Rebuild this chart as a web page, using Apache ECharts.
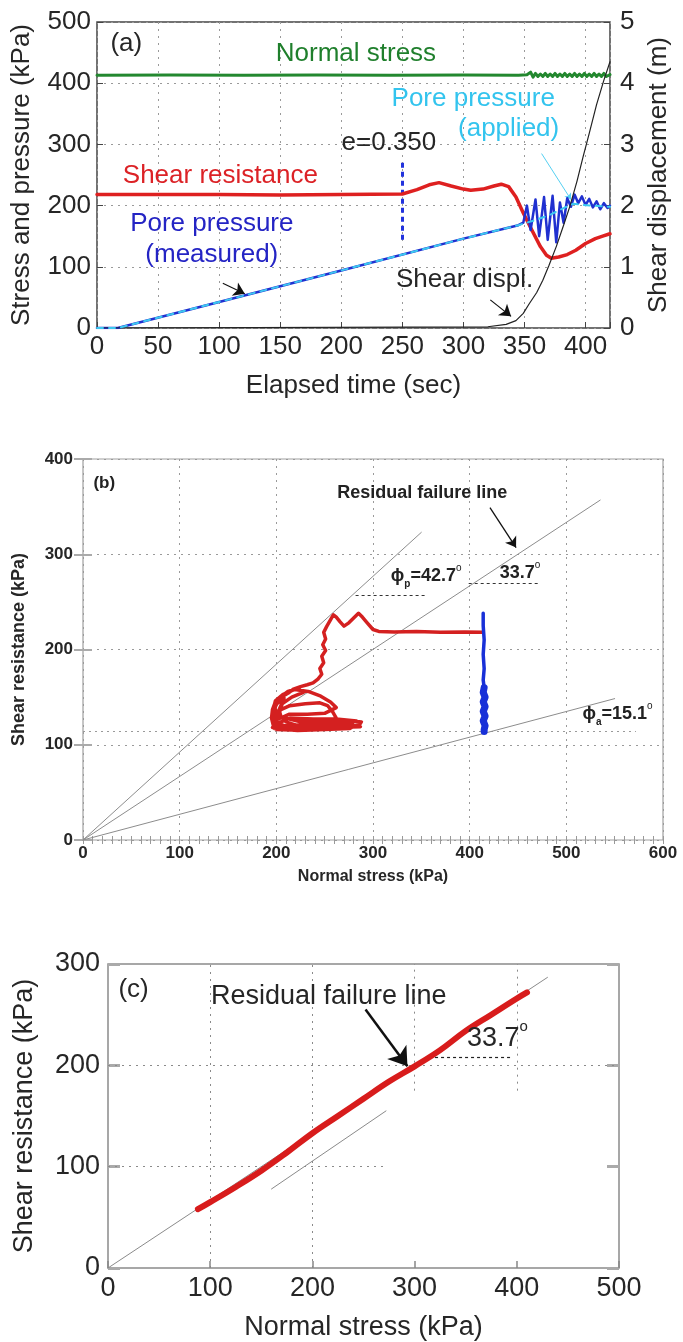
<!DOCTYPE html>
<html>
<head>
<meta charset="utf-8">
<title>Ring shear test results</title>
<script src="https://cdn.jsdelivr.net/npm/echarts@6/dist/echarts.min.js"></script>
<style>
html,body{margin:0;padding:0;background:#ffffff;}
#chart{width:683px;height:1342px;}
</style>
</head>
<body>
<div id="chart"></div>
<script>
// ---------- (a) time histories: [elapsed time (s), value] ----------
const normalStress = [[0,413],[60,413.5],[120,413],[180,413.5],[240,413],[300,413.5],[345,413],[352,414],[355,418],[357,410],[359,416],[361,411],[363,415],[365,411],[367,416],[369,411],[371,415],[373,411],[375,416],[377,411],[379,415],[381,411],[383,416],[385,411],[387,415],[389,411],[391,416],[393,411],[395,415],[397,411],[399,416],[401,411],[403,415],[405,411],[407,416],[409,411],[411,415],[413,411],[415,416],[417,411],[420,414]];
const shearResistance = [[0,218],[50,218],[100,218],[150,217.5],[200,218],[250,219],[262,226],[272,234],[280,237.5],[290,232],[300,227],[306,225],[316,227],[325,232],[331,235],[337,231],[343,214],[349,188],[356,160],[363,133],[368,119],[372,114],[378,116],[385,120],[392,127],[400,138],[408,146],[414,150],[420,154]];
const porePressureMeasured = [[0,0],[17,0],[100,42.5],[200,94],[300,146],[345,168],[349,172],[352,200],[355,160],[359,210],[362,150],[366,214],[369,144],[373,216],[376,140],[379,205],[382,172],[385,212],[388,198],[391,218],[394,204],[397,215],[400,201],[403,211],[406,197],[409,207],[412,194],[415,204],[418,196],[420,200]];
const porePressureApplied = [[0,0],[17,0],[100,42.5],[200,94],[300,146],[345,168],[360,177],[372,186],[382,196],[390,203],[398,201],[406,200],[414,199],[420,198]];
const shearDisplacement = [[0,0],[320,0.02],[335,0.06],[343,0.12],[349,0.24],[354,0.40],[360,0.58],[365,0.78],[370,1.02],[376,1.33],[382,1.68],[387,1.98],[393,2.40],[398,2.80],[403,3.18],[409,3.65],[415,4.05],[420,4.35]];
const voidRatioTime = 250;          // time at which e = 0.350
const voidRatioText = 'e=0.350';

// ---------- (b) stress paths: [normal stress (kPa), shear resistance (kPa)] ----------
const stressPathEffective = [[414,218],[395,218.5],[370,218],[345,219],[322,218.5],[306,219],[300,221],[294,228],[289,234],[285,238],[280,233],[275,228],[270,224.5],[266,229],[262,234],[259,236.5],[256,231],[252,224],[249,218],[251,211],[248,205],[251,199],[247,193],[249,186],[245,180],[247,174],[243,169],[238,165],[232,163],[225,161],[217,158],[212,154],[205,150],[199,145],[196,137],[195,128],[197,120],[200,116],[215,115.5],[235,116],[255,117],[272,118],[286,121],[288,124],[270,126],[245,125],[222,126],[205,129],[203,136],[214,141],[230,143],[245,144],[253,141],[258,135],[262,128],[248,122],[228,121],[208,120],[198,124],[196,134],[199,146],[207,153],[219,158],[233,156],[246,151],[256,145],[262,139],[250,133],[232,132],[213,132],[200,126],[198,117],[222,115],[250,116],[276,117],[281,120],[258,121],[232,121],[207,119],[197,126],[199,140],[204,150],[212,156],[222,159],[228,155],[216,150],[206,143],[203,132],[210,124],[225,119],[245,120],[268,122],[283,125],[262,127],[238,127],[214,128],[200,122],[196,118],[212,117],[240,118],[264,119],[279,123],[255,124],[225,124],[201,130],[198,141],[208,149],[203,137],[200,127],[202,119],[230,117],[260,118],[287,119]];
const stressPathTotalUpper = [[414,238],[414,225],[415,210],[414,195],[415,180],[414,168],[415,160]];
const stressPathTotalLower = [[415,160],[414,155],[416,150],[414,145],[416,140],[414,135],[416,130],[414,125],[416,120],[415,116],[415,114]];
const peakFrictionAngle = 42.7;       // phi_p (deg)
const residualFrictionAngle = 33.7;   // residual (deg)
const apparentFrictionAngle = 15.1;   // phi_a (deg)
const steadyStateShear = 114;         // kPa, lowest shear resistance level

// ---------- (c) residual shear: [normal stress (kPa), shear resistance (kPa)] ----------
const residualShear = [[88,58],[100,65],[125,80],[150,96],[175,114],[200,133],[225,150],[250,167],[275,184],[300,199],[325,215],[350,234],[375,250],[400,266],[410,272]];
const unloadingGuide = [[160,78],[272,155]];

const FONT = '"Liberation Sans", Arial, Helvetica, sans-serif';
const tan = d => Math.tan(d * Math.PI / 180);
const throughOrigin = (deg, sigmaEnd) => [[0, 0], [sigmaEnd, sigmaEnd * tan(deg)]];

function note(x, y, text, size, color, extra) {
  return { value: [x, y], label: Object.assign({ show: true, position: 'inside', formatter: text,
    fontSize: size, color: color, fontFamily: FONT, opacity: 1 }, extra || {}) };
}
function notes(xi, yi, items) {
  return { type: 'scatter', xAxisIndex: xi, yAxisIndex: yi, symbolSize: 1, silent: true, z: 20,
    itemStyle: { color: 'rgba(0,0,0,0)', opacity: 1 }, data: items, clip: false };
}
function segments(xi, yi, list, lineStyle, arrowSize) {
  return { type: 'line', xAxisIndex: xi, yAxisIndex: yi, data: [], silent: true, z: 6,
    markLine: { silent: true, animation: false,
      symbol: arrowSize ? ['none', 'arrow'] : ['none', 'none'], symbolSize: arrowSize || 0,
      label: { show: false }, lineStyle: lineStyle, emphasis: { disabled: true },
      data: list.map(s => [{ coord: s[0] }, { coord: s[1] }]) } };
}
function path(xi, yi, data, color, width, type, z, smooth) {
  return { type: 'line', xAxisIndex: xi, yAxisIndex: yi, data: data, showSymbol: false, symbol: 'none',
    silent: true, z: z || 5, smooth: smooth || false,
    lineStyle: { color: color, width: width, type: type || 'solid', cap: 'round', join: 'round' } };
}

const dotted = { color: '#9a9a9a', type: [2, 5], width: 1 };
const labA = { fontSize: 26, color: '#262626', fontFamily: FONT };
const labB = { fontSize: 17, color: '#262626', fontFamily: FONT, fontWeight: 'bold' };
const labBNameX = { fontSize: 16, color: '#262626', fontFamily: FONT, fontWeight: 'bold' };
const labBNameY = { fontSize: 18, color: '#262626', fontFamily: FONT, fontWeight: 'bold' };
const labC = { fontSize: 27, color: '#262626', fontFamily: FONT };

const richB = () => ({
  m: { fontSize: 18, color: '#222', fontFamily: FONT, fontWeight: 'bold', lineHeight: 26 },
  s: { fontSize: 10, color: '#222', fontFamily: FONT, fontWeight: 'bold', verticalAlign: 'bottom', lineHeight: 26 },
  u: { fontSize: 10, color: '#222', fontFamily: FONT, verticalAlign: 'top', lineHeight: 26 }
});

const option = {
  backgroundColor: '#ffffff',
  animation: false,
  grid: [
    { left: 97, top: 22, width: 513, height: 306, show: true, borderColor: '#444', borderWidth: 1.5 },
    { left: 83, top: 459, width: 580, height: 381, show: true, borderColor: '#a0a0a0', borderWidth: 1.2 },
    { left: 108, top: 964, width: 511, height: 306, show: true, borderColor: '#8a8a8a', borderWidth: 1.5 }
  ],
  xAxis: [
    { gridIndex: 0, type: 'value', min: 0, max: 420, interval: 50,
      axisLine: { show: false }, axisTick: { inside: true, length: 6, lineStyle: { color: '#444' } },
      axisLabel: Object.assign({ margin: 6, formatter: v => (v % 50 === 0 ? v : '') }, labA),
      splitLine: { show: true, lineStyle: dotted },
      name: 'Elapsed time (sec)', nameLocation: 'middle', nameGap: 45, nameTextStyle: labA },
    { gridIndex: 1, type: 'value', min: 0, max: 600, interval: 100,
      axisLine: { show: false }, axisTick: { inside: true, length: 4, lineStyle: { color: '#999' } },
      minorTick: { show: true, splitNumber: 10, length: 4, lineStyle: { color: '#999' } },
      axisLabel: Object.assign({ margin: 5 }, labB),
      splitLine: { show: true, lineStyle: dotted },
      name: 'Normal stress (kPa)', nameLocation: 'middle', nameGap: 29, nameTextStyle: labBNameX },
    { gridIndex: 1, type: 'value', position: 'top', min: 0, max: 600, interval: 100,
      axisLine: { show: false }, axisLabel: { show: false }, splitLine: { show: false },
      axisTick: { inside: true, length: 4, lineStyle: { color: '#999' } },
      minorTick: { show: true, splitNumber: 10, length: 4, lineStyle: { color: '#999' } } },
    { gridIndex: 2, type: 'value', min: 0, max: 500, interval: 100,
      axisLine: { show: false }, axisTick: { inside: true, length: 7, lineStyle: { color: '#888', width: 1.5 } },
      axisLabel: Object.assign({ margin: 7 }, labC), splitLine: { show: false },
      name: 'Normal stress (kPa)', nameLocation: 'middle', nameGap: 46, nameTextStyle: labC }
  ],
  yAxis: [
    { gridIndex: 0, type: 'value', min: 0, max: 500, interval: 100,
      axisLine: { show: false }, axisTick: { inside: true, length: 6, lineStyle: { color: '#444' } },
      axisLabel: Object.assign({ margin: 6 }, labA), splitLine: { show: true, lineStyle: dotted },
      name: 'Stress and pressure (kPa)', nameLocation: 'middle', nameRotate: 90, nameGap: 62, nameTextStyle: labA },
    { gridIndex: 0, type: 'value', position: 'right', min: 0, max: 5, interval: 1,
      axisLine: { show: false }, axisTick: { inside: true, length: 6, lineStyle: { color: '#444' } },
      axisLabel: Object.assign({ margin: 10 }, labA), splitLine: { show: false },
      name: 'Shear displacement (m)', nameLocation: 'middle', nameRotate: 90, nameGap: 30, nameTextStyle: labA },
    { gridIndex: 1, type: 'value', min: 0, max: 400, interval: 100,
      axisLine: { show: false }, axisTick: { inside: true, length: 9, lineStyle: { color: '#aaa', width: 2 } },
      axisLabel: Object.assign({ margin: 10 }, labB), splitLine: { show: true, lineStyle: dotted },
      name: 'Shear resistance (kPa)', nameLocation: 'middle', nameRotate: 90, nameGap: 55, nameTextStyle: labBNameY },
    { gridIndex: 1, type: 'value', position: 'right', min: 0, max: 400, interval: 100,
      axisLine: { show: false }, axisLabel: { show: false }, splitLine: { show: false },
      axisTick: { inside: true, length: 9, lineStyle: { color: '#aaa', width: 2 } } },
    { gridIndex: 2, type: 'value', min: 0, max: 300, interval: 100,
      axisLine: { show: false }, axisTick: { inside: true, length: 12, lineStyle: { color: '#aaa', width: 3 } },
      axisLabel: Object.assign({ margin: 8 }, labC), splitLine: { show: false },
      name: 'Shear resistance (kPa)', nameLocation: 'middle', nameRotate: 90, nameGap: 70, nameTextStyle: labC },
    { gridIndex: 2, type: 'value', position: 'right', min: 0, max: 300, interval: 100,
      axisLine: { show: false }, axisLabel: { show: false }, splitLine: { show: false },
      axisTick: { inside: true, length: 12, lineStyle: { color: '#aaa', width: 3 } } }
  ],
  series: [
    // ----- (a) -----
    path(0, 0, normalStress, '#23882f', 3),
    path(0, 0, shearResistance, '#de2020', 3.5),
    path(0, 0, porePressureMeasured, '#2030d0', 2.5),
    path(0, 0, porePressureApplied, '#3cc8f0', 2, [6, 6], 7),
    path(0, 1, shearDisplacement, '#222222', 1.2),
    segments(0, 0, [[[voidRatioTime, 144], [voidRatioTime, 270]]], { color: '#2233dd', width: 3, type: [5, 4] }),
    segments(0, 0, [[[103, 73], [121, 56]], [[322, 46], [339, 19]]], { color: '#111', width: 1.2, type: 'solid' }, 11),
    segments(0, 0, [[[364, 285], [388, 210]]], { color: '#55d0f2', width: 1, type: 'solid' }, 6),
    notes(0, 0, [
      note(24, 465, '(a)', 26, '#262626'),
      note(212, 448, 'Normal stress', 26, '#1f7f2c'),
      note(308, 375, 'Pore pressure', 26, '#33c4ee'),
      note(337, 326, '(applied)', 26, '#33c4ee'),
      note(239, 302, voidRatioText, 26, '#262626'),
      note(101, 248, 'Shear resistance', 26, '#dc2226'),
      note(94, 170, 'Pore pressure', 26, '#2424c4'),
      note(94, 120, '(measured)', 26, '#2424c4'),
      note(301, 78, 'Shear displ.', 26, '#262626')
    ]),
    // ----- (b) -----
    path(1, 2, throughOrigin(peakFrictionAngle, 350), '#8c8c8c', 1),
    path(1, 2, throughOrigin(residualFrictionAngle, 535), '#8c8c8c', 1),
    path(1, 2, throughOrigin(apparentFrictionAngle, 550), '#8c8c8c', 1),
    segments(1, 2, [[[0, steadyStateShear], [572, steadyStateShear]]], { color: '#9a9a9a', type: [2, 4], width: 1 }),
    segments(1, 2, [[[282, 257], [356, 257]], [[399, 270], [473, 270]]], { color: '#333', type: [3, 3], width: 1 }),
    path(1, 2, stressPathEffective, '#d42020', 3.5),
    path(1, 2, stressPathTotalUpper, '#1830d8', 3.5),
    path(1, 2, stressPathTotalLower, '#1830d8', 7),
    segments(1, 2, [[[421, 349], [448, 307]]], { color: '#111', width: 1.3, type: 'solid' }, 10),
    notes(1, 2, [
      note(22, 375, '(b)', 17, '#222', { fontWeight: 'bold' }),
      note(351, 364, 'Residual failure line', 18, '#222', { fontWeight: 'bold' }),
      note(355, 277, '{m|ϕ}{s|p}{m|=' + peakFrictionAngle.toFixed(1) + '}{u|o}', 18, '#222', { rich: richB() }),
      note(452, 280, '{m|' + residualFrictionAngle.toFixed(1) + '}{u|o}', 18, '#222', { rich: richB() }),
      note(553, 132, '{m|ϕ}{s|a}{m|=' + apparentFrictionAngle.toFixed(1) + '}{u|o}', 18, '#222', { rich: richB() })
    ]),
    // ----- (c) -----
    segments(3, 4, [[[100, 0], [100, 300]], [[200, 0], [200, 300]], [[300, 175], [300, 300]], [[400, 175], [400, 300]],
                    [[0, 200], [500, 200]], [[0, 100], [270, 100]]], { color: '#8a8a8a', type: [2, 5], width: 1 }),
    path(3, 4, throughOrigin(residualFrictionAngle, 430), '#8a8a8a', 1),
    path(3, 4, unloadingGuide, '#8a8a8a', 1),
    path(3, 4, residualShear, '#d81c1c', 6, 'solid', 5, 0.4),
    segments(3, 4, [[[320, 208], [395, 208]]], { color: '#222', type: [3, 3], width: 1.2 }),
    segments(3, 4, [[[252, 255], [293, 199]]], { color: '#111', width: 2.5, type: 'solid' }, 18),
    notes(3, 4, [
      note(25, 275, '(c)', 26, '#262626'),
      note(216, 268, 'Residual failure line', 27, '#262626'),
      note(381, 226, '{m|' + residualFrictionAngle.toFixed(1) + '}{u|o}', 27, '#262626', {
        rich: { m: { fontSize: 27, color: '#262626', fontFamily: FONT, lineHeight: 40 },
                u: { fontSize: 15, color: '#262626', fontFamily: FONT, verticalAlign: 'top', lineHeight: 40 } } })
    ])
  ]
};

const chart = echarts.init(document.getElementById('chart'), null, { renderer: 'canvas' });
chart.setOption(option);
</script>
</body>
</html>
